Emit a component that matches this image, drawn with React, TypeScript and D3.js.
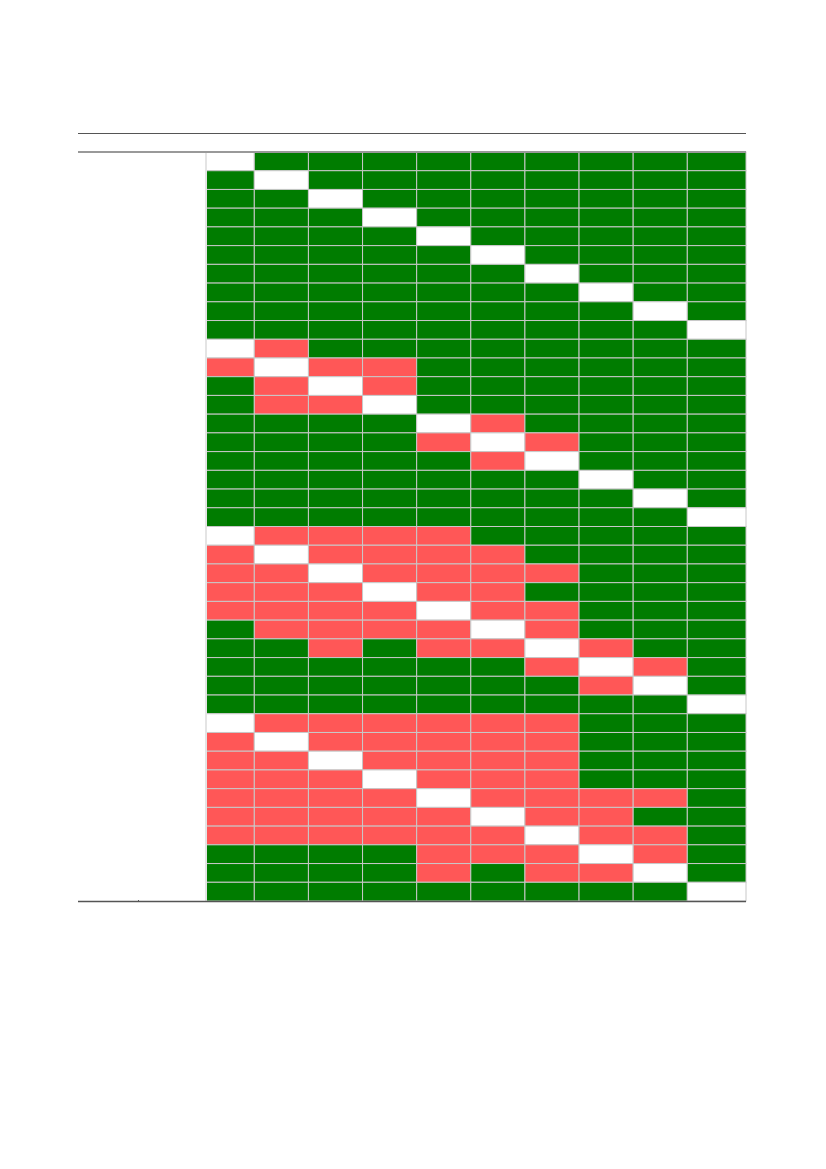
import React from "react";
import * as d3 from "d3";

// Each string is one table row; G = green, R = red, W = blank (diagonal)
const block1: string[] = [
  "WGGGGGGGGG",
  "GWGGGGGGGG",
  "GGWGGGGGGG",
  "GGGWGGGGGG",
  "GGGGWGGGGG",
  "GGGGGWGGGG",
  "GGGGGGWGGG",
  "GGGGGGGWGG",
  "GGGGGGGGWG",
  "GGGGGGGGGW",
];
const block2: string[] = [
  "WRGGGGGGGG",
  "RWRRGGGGGG",
  "GRWRGGGGGG",
  "GRRWGGGGGG",
  "GGGGWRGGGG",
  "GGGGRWRGGG",
  "GGGGGRWGGG",
  "GGGGGGGWGG",
  "GGGGGGGGWG",
  "GGGGGGGGGW",
];
const block3: string[] = [
  "WRRRRGGGGG",
  "RWRRRRGGGG",
  "RRWRRRRGGG",
  "RRRWRRGGGG",
  "RRRRWRRGGG",
  "GRRRRWRGGG",
  "GGRGRRWRGG",
  "GGGGGGRWRG",
  "GGGGGGGRWG",
  "GGGGGGGGGW",
];
const block4: string[] = [
  "WRRRRRRGGG",
  "RWRRRRRGGG",
  "RRWRRRRGGG",
  "RRRWRRRGGG",
  "RRRRWRRRRG",
  "RRRRRWRRGG",
  "RRRRRRWRRG",
  "GGGGRRRWRG",
  "GGGGRGRRWG",
  "GGGGGGGGGW",
];

const rows: string[] = [...block1, ...block2, ...block3, ...block4];
const nCols = 10;

const colorMap: Record<string, string> = {
  G: "#007c00",
  R: "#ff5757",
  W: "#ffffff",
};

export default function App() {
  const W = 826;
  const H = 1169;
  const left = 78;
  const right = 746;
  const gridLeft = 206;
  const top = 152;
  const bottom = 901;

  const x = d3
    .scaleLinear()
    .domain([0, 1, nCols - 1, nCols])
    .range([gridLeft, 254.3, 687.3, right]);
  const y = d3
    .scaleBand<number>()
    .domain(d3.range(rows.length))
    .range([top, bottom])
    .padding(0);

  const cells: { r: number; c: number; v: string }[] = [];
  rows.forEach((row, r) => {
    row.split("").forEach((v, c) => cells.push({ r, c, v }));
  });

  return (
    <svg
      width={W}
      height={H}
      style={{ position: "absolute", left: 0, top: 0, background: "#fff" }}
      fontFamily="Liberation Sans, Arial, sans-serif"
    >
      <line x1={left} x2={right} y1={133.5} y2={133.5} stroke="#555" strokeWidth={1} />
      {cells.map((d, i) => (
        <rect
          key={i}
          x={x(d.c)}
          y={y(d.r)!}
          width={x(d.c + 1) - x(d.c)}
          height={y.bandwidth()}
          fill={colorMap[d.v]}
          stroke="#c8c8c8"
          strokeWidth={1}
        />
      ))}
      <line x1={gridLeft} x2={gridLeft} y1={top} y2={bottom} stroke="#e4e4e4" strokeWidth={2} />
      <line x1={left} x2={right} y1={top} y2={top} stroke="#999" strokeWidth={2} />
      <line x1={left} x2={right} y1={bottom + 0.5} y2={bottom + 0.5} stroke="#555" strokeWidth={1.5} />
      <line x1={138.5} x2={138.5} y1={bottom - 1} y2={bottom + 1} stroke="#555" strokeWidth={1} />
    </svg>
  );
}
